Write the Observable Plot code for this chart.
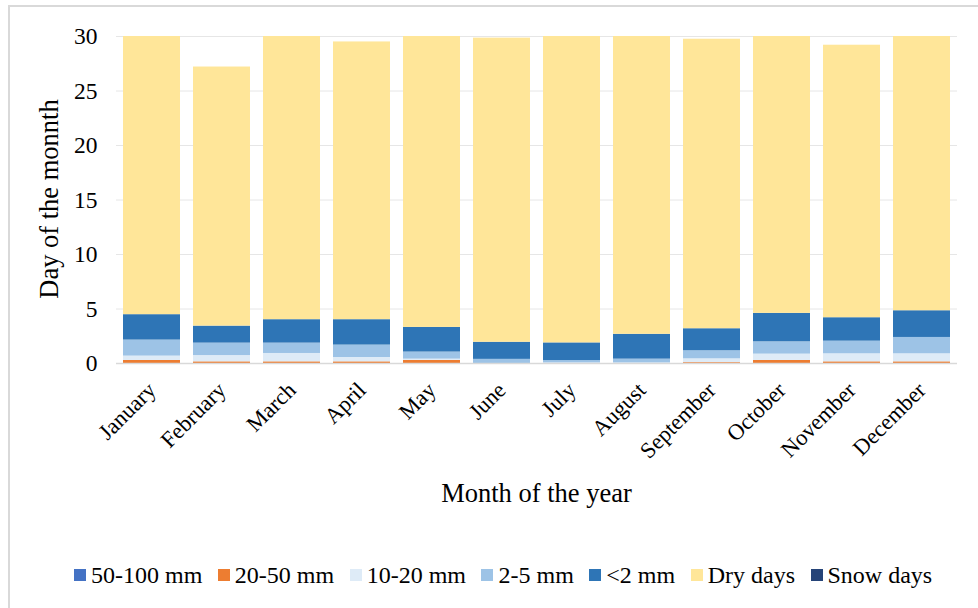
<!DOCTYPE html>
<html>
<head>
<meta charset="utf-8">
<script src="https://cdn.jsdelivr.net/npm/d3@7"></script>
<script src="https://cdn.jsdelivr.net/npm/@observablehq/plot@0.6"></script>
<style>
  html, body { margin: 0; padding: 0; background: #fff; }
  body { width: 978px; height: 608px; position: relative; overflow: hidden; font-family: "Liberation Serif", "Times New Roman", serif; }
  #frame { position: absolute; left: 8px; top: 5px; width: 1100px; height: 700px; border: 2px solid #d9d9d9; box-sizing: border-box; }
  #chart { position: absolute; left: 0; top: 0; }
  #chart svg text, #chart svg g { font-family: "Liberation Serif", "Times New Roman", serif !important; }
  .ttl { position: absolute; font-size: 26.5px; color: #000; white-space: nowrap; font-family: "Liberation Serif", serif; }
  #xtitle { left: 0; width: 1073px; text-align: center; top: 478px; line-height: 30px; }
  #ytitle { left: 49px; top: 199px; transform: translate(-50%, -50%) rotate(-90deg); line-height: 30px; }
  #legend { position: absolute; left: 74px; top: 561px; display: flex; align-items: center; gap: 15.5px; font-size: 24px; line-height: 28px; white-space: nowrap; font-family: "Liberation Serif", serif !important; }
  #legend span { font-family: "Liberation Serif", serif !important; }
  .li { display: flex; align-items: center; }
  .sw { width: 12px; height: 12px; margin-right: 5px; }
</style>
</head>
<body>
<div id="frame"></div>
<div id="chart"></div>
<div class="ttl" id="ytitle">Day of the monnth</div>
<div class="ttl" id="xtitle">Month of the year</div>
<div id="legend"></div>
<script>
const months = ["January","February","March","April","May","June","July","August","September","October","November","December"];
const seriesNames = ["50-100 mm","20-50 mm","10-20 mm","2-5 mm","<2 mm","Dry days","Snow days"];
const seriesColors = ["#4472C4","#ED7D31","#DEEBF7","#9DC3E6","#2E75B6","#FFE699","#264478"];
const yTicks = [0,5,10,15,20,25,30];

const mm50to100 = [0,0,0,0,0,0,0,0,0,0,0,0];
const mm20to50  = [0.28,0.15,0.15,0.15,0.28,0,0,0,0.08,0.28,0.15,0.15];
const mm10to20  = [0.40,0.58,0.77,0.40,0.12,0,0.05,0.05,0.35,0.58,0.74,0.74];
const mm2to5    = [1.47,1.14,0.95,1.14,0.65,0.38,0.22,0.35,0.74,1.13,1.16,1.50];
const mmBelow2  = [2.33,1.56,2.15,2.33,2.26,1.57,1.62,2.28,2.02,2.61,2.15,2.45];
const dryDays   = [25.52,23.77,25.98,25.48,26.69,27.90,28.11,27.32,26.56,25.40,25.00,25.16];
const snowDays  = [0,0,0,0,0,0,0,0,0,0,0,0];

const seriesValues = [mm50to100, mm20to50, mm10to20, mm2to5, mmBelow2, dryDays, snowDays];
const data = [];
months.forEach((m, i) => {
  seriesNames.forEach((s, j) => {
    data.push({month: m, series: s, value: seriesValues[j][i]});
  });
});

const font = '"Liberation Serif", "Times New Roman", serif';
const chart = Plot.plot({
  width: 978,
  height: 540,
  marginLeft: 116,
  marginRight: 21,
  marginTop: 36,
  marginBottom: 177,
  style: {fontFamily: font, background: "transparent", color: "#000"},
  x: {domain: months, paddingInner: 0.18, paddingOuter: 0.09, label: null},
  y: {domain: [0, 30], label: null},
  color: {domain: seriesNames, range: seriesColors},
  marks: [
    Plot.gridY(yTicks, {stroke: "#e6e6e6", strokeOpacity: 1, strokeWidth: 1}),
    Plot.barY(data, {x: "month", y: "value", fill: "series"}),
    Plot.ruleY([0], {stroke: "#d9d9d9", strokeWidth: 1.5}),
    Plot.axisY(yTicks, {tickSize: 0, tickPadding: 19, fontSize: 23.5, fontFamily: font, label: null}),
    Plot.axisX({tickSize: 0, tickRotate: -45, tickPadding: 23, fontSize: 22.5, fontFamily: font, label: null})
  ]
});
document.getElementById("chart").appendChild(chart);

const legend = document.getElementById("legend");
seriesNames.forEach((s, j) => {
  const item = document.createElement("div");
  item.className = "li";
  const sw = document.createElement("span");
  sw.className = "sw";
  sw.style.background = seriesColors[j];
  const t = document.createElement("span");
  t.textContent = s;
  item.appendChild(sw);
  item.appendChild(t);
  legend.appendChild(item);
});
</script>
</body>
</html>
